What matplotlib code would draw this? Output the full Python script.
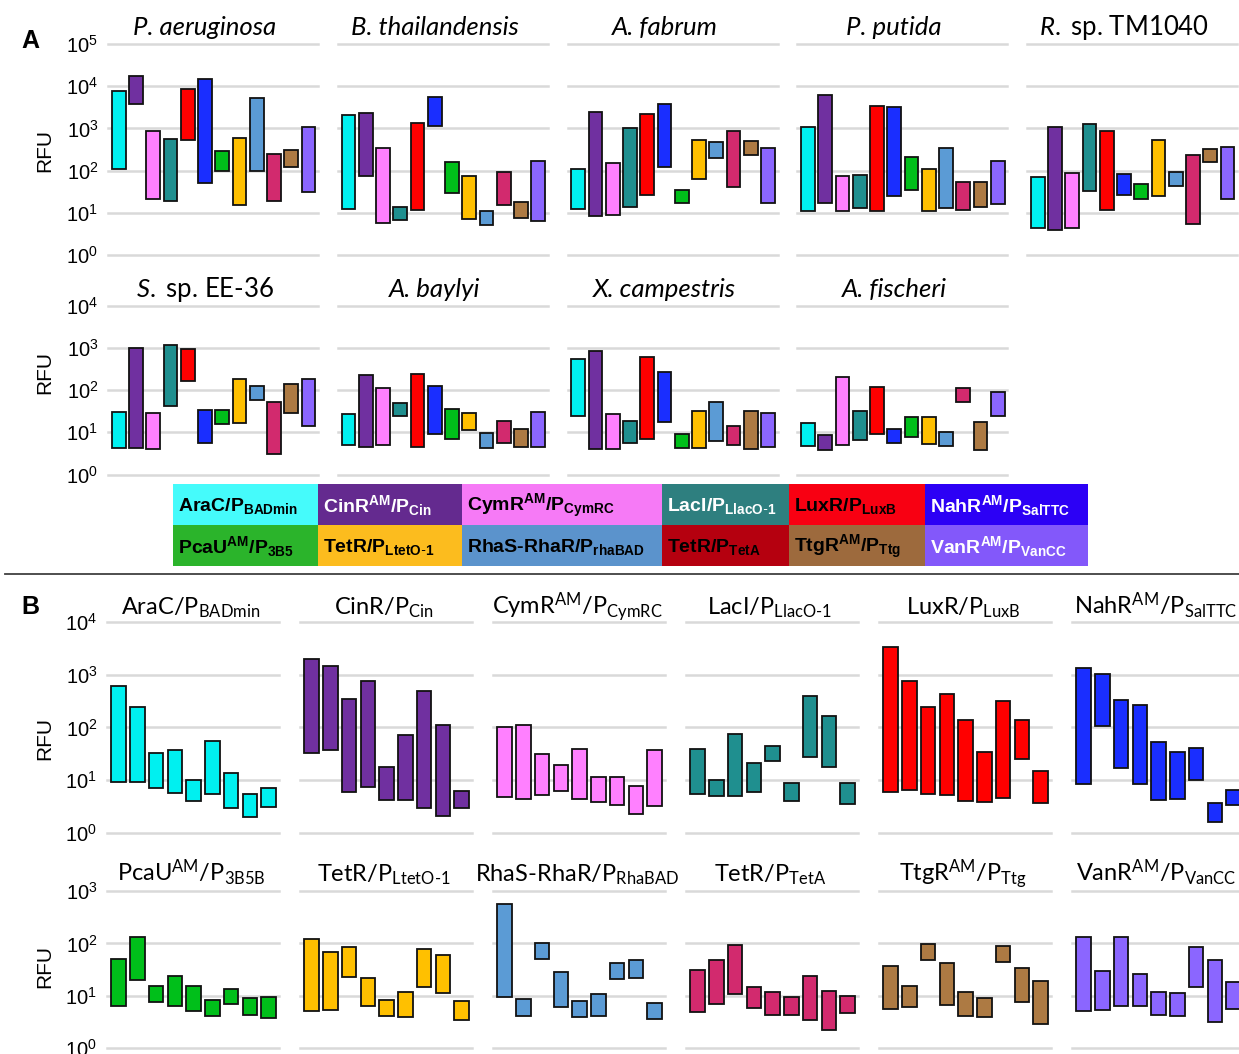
import numpy as np
import matplotlib.pyplot as plt
from matplotlib import font_manager
from matplotlib.patches import Rectangle
from matplotlib.lines import Line2D
from matplotlib.ticker import NullLocator

W, H = 1239, 1054

# ---------------- data: low / high RFU of each floating bar ----------------
bar_colors = ['#00F0F0', '#7030A0', '#FF80FF', '#1F8F8F', '#FF0000', '#1A2EFF',
              '#00BF1A', '#FFC000', '#5B9BD5', '#D22A6E', '#AD7A43', '#8B66FF']

legend_labels = [r'AraC/P$_\mathbf{BADmin}$', r'CinR$^\mathbf{AM}$/P$_\mathbf{Cin}$',
                 r'CymR$^\mathbf{AM}$/P$_\mathbf{CymRC}$', r'LacI/P$_{\mathbf{LlacO}\text{-}\mathbf{1}}$',
                 r'LuxR/P$_\mathbf{LuxB}$', r'NahR$^\mathbf{AM}$/P$_\mathbf{SalTTC}$',
                 r'PcaU$^\mathbf{AM}$/P$_\mathbf{3B5}$', r'TetR/P$_{\mathbf{LtetO}\text{-}\mathbf{1}}$',
                 r'RhaS-RhaR/P$_\mathbf{rhaBAD}$', r'TetR/P$_\mathbf{TetA}$',
                 r'TtgR$^\mathbf{AM}$/P$_\mathbf{Ttg}$', r'VanR$^\mathbf{AM}$/P$_\mathbf{VanCC}$']
legend_colors = ['#45FBFB', '#642A8F', '#F67AF6', '#2E7F7F', '#F80012', '#2C00F5',
                 '#2BB42B', '#FCBC1E', '#5B93CC', '#B5000F', '#9D6A3D', '#8358FA']
legend_text_colors = ['black', 'white', 'black', 'white', 'black', 'white',
                      'black', 'black', 'black', 'black', 'black', 'white']

# panel A: one floating bar per sensor system, per host
a_titles = ['P. aeruginosa', 'B. thailandensis', 'A. fabrum', 'P. putida', r'$\mathit{R.}$ sp. TM1040',
            r'$\mathit{S.}$ sp. EE-36', 'A. baylyi', 'X. campestris', 'A. fischeri']
a_title_italic = [True, True, True, True, False, False, True, True, True]

aeruginosa_lo = [108, 3800, 21, 19, 540, 50, 96, 15, 100, 19, 123, 31]
aeruginosa_hi = [7900, 17400, 890, 550, 8700, 15000, 285, 590, 5300, 245, 300, 1070]
thailandensis_lo = [12.5, 75, 5.7, 6.6, 11.8, 1120, 29, 7, 5.2, 15, 7.4, 6.5]
thailandensis_hi = [2130, 2330, 340, 14, 1330, 5400, 160, 73, 10.8, 91, 18, 165]
fabrum_lo = [12.3, 8.2, 8.7, 14, 27, 123, 16.7, 64, 204, 40, 237, 17.3]
fabrum_hi = [110, 2500, 148, 1000, 2170, 3800, 34, 535, 480, 890, 500, 340]
putida_lo = [10.8, 17, 10.8, 12.7, 11, 25, 34, 11, 12.7, 11.8, 14, 16]
putida_hi = [1100, 6300, 73, 78, 3400, 3160, 215, 108, 340, 53, 53, 165]
tm1040_lo = [4.4, 4, 4.4, 33, 11.4, 26, 21, 25, 43, 5.4, 158, 21]
tm1040_hi = [71, 1100, 87, 1260, 875, 84, 49, 535, 94, 233, 330, 365]
ee36_lo = [4.2, 4.2, 4, 43, 165, 5.6, 15.5, 17, 59, 3.1, 29, 14.4]
ee36_hi = [30, 980, 29, 1150, 940, 33, 34, 180, 126, 51, 142, 183]
baylyi_lo = [5, 4.6, 5, 25, 4.6, 9.1, 6.8, 11.3, 4.3, 5.5, 4.6, 4.6]
baylyi_hi = [27.7, 233, 112, 49, 247, 123, 36, 29, 9.6, 19, 11.8, 29.7]
campestris_lo = [24.4, 4.1, 4.1, 5.5, 7.1, 17.5, 4.3, 4.2, 6.1, 4.9, 4, 4.5]
campestris_hi = [550, 830, 27, 18.5, 600, 275, 9.1, 32, 53, 13.9, 32.6, 28.6]
fischeri_lo = [4.8, 3.9, 5, 6.6, 9.3, 5.5, 7.6, 5.4, 4.8, 53, 3.9, 25]
fischeri_hi = [16.3, 8.6, 208, 32.6, 116, 12.2, 23.5, 23.5, 10, 114, 17.2, 90]

# panel B: one floating bar per host, per sensor system
b_titles = [r'AraC/P$_\mathrm{BADmin}$', r'CinR/P$_\mathrm{Cin}$', r'CymR$^\mathrm{AM}$/P$_\mathrm{CymRC}$',
            r'LacI/P$_{\mathrm{LlacO}\text{-}\mathrm{1}}$', r'LuxR/P$_\mathrm{LuxB}$',
            r'NahR$^\mathrm{AM}$/P$_\mathrm{SalTTC}$',
            r'PcaU$^\mathrm{AM}$/P$_\mathrm{3B5B}$', r'TetR/P$_{\mathrm{LtetO}\text{-}\mathrm{1}}$',
            r'RhaS-RhaR/P$_\mathrm{RhaBAD}$', r'TetR/P$_\mathrm{TetA}$',
            r'TtgR$^\mathrm{AM}$/P$_\mathrm{Ttg}$', r'VanR$^\mathrm{AM}$/P$_\mathrm{VanCC}$']

arac_lo = [9.3, 9.1, 7.1, 5.7, 4, 5.5, 2.9, 2, 3.1]
arac_hi = [610, 245, 33, 37, 10.2, 55, 13.7, 5.4, 7.1]
cinr_lo = [33, 37, 5.8, 7.4, 4.1, 4.1, 3, 2.1, 2.9]
cinr_hi = [2030, 1490, 345, 770, 17.8, 72, 490, 112, 6.1]
cymr_lo = [4.8, 4.3, 5.3, 6.1, 4.4, 3.9, 3.4, 2.3, 3.2]
cymr_hi = [101, 112, 31.4, 19, 39, 11.4, 11.3, 7.7, 37]
laci_lo = [5.5, 4.9, 5, 5.9, 22.8, 4, 27, 17.8, 3.5]
laci_hi = [38.6, 9.9, 76, 21, 44.6, 8.6, 400, 164, 8.7]
luxr_lo = [5.8, 6.4, 5.4, 5.3, 4, 3.9, 4.6, 25, 3.6]
luxr_hi = [3410, 750, 245, 425, 137, 34, 320, 141, 14.7]
nahr_lo = [8.3, 106, 16.7, 8.3, 4.2, 4.4, 10.2, 1.6, 3.3]
nahr_hi = [1340, 1060, 330, 262, 52, 34, 41, 3.6, 6.6]
pcau_lo = [6.3, 20, 7.6, 6.3, 5.2, 4.1, 6.9, 4.4, 3.8]
pcau_hi = [51, 132, 15.3, 24, 15.3, 8.4, 13.6, 9.2, 9.6]
tetr_ltet_lo = [5.2, 5.3, 23, 6.3, 4.1, 4, 15, 11.4, 3.4]
tetr_ltet_hi = [121, 70, 85, 22.4, 8.4, 11.8, 80, 59, 7.9]
rhas_lo = [9.6, 4.2, 51, 6, 3.9, 4.1, 21, 22, 3.6]
rhas_hi = [565, 8.6, 103, 28.7, 7.9, 11, 43, 47.5, 7.4]
tetr_teta_lo = [4.9, 6.9, 11, 5.8, 4.3, 4.3, 3.4, 2.2, 4.7]
tetr_teta_hi = [31.4, 47.5, 94, 14.9, 12.1, 9.4, 24, 12.3, 10]
ttgr_lo = [5.5, 6, 49, 6.8, 4.2, 3.9, 44.6, 7.8, 2.9]
ttgr_hi = [37.5, 15.3, 98.5, 43, 11.9, 9.3, 91, 34.5, 19.6]
vanr_lo = [5.2, 5.3, 6.3, 6.3, 4.3, 4.1, 15, 3.2, 5.6]
vanr_hi = [135, 30, 130, 25.9, 11.7, 11.4, 85, 47.5, 18.5]

a_lo = [aeruginosa_lo, thailandensis_lo, fabrum_lo, putida_lo, tm1040_lo,
        ee36_lo, baylyi_lo, campestris_lo, fischeri_lo]
a_hi = [aeruginosa_hi, thailandensis_hi, fabrum_hi, putida_hi, tm1040_hi,
        ee36_hi, baylyi_hi, campestris_hi, fischeri_hi]
b_lo = [arac_lo, cinr_lo, cymr_lo, laci_lo, luxr_lo, nahr_lo,
        pcau_lo, tetr_ltet_lo, rhas_lo, tetr_teta_lo, ttgr_lo, vanr_lo]
b_hi = [arac_hi, cinr_hi, cymr_hi, laci_hi, luxr_hi, nahr_hi,
        pcau_hi, tetr_ltet_hi, rhas_hi, tetr_teta_hi, ttgr_hi, vanr_hi]

# ---------------- fonts ----------------
installed = {f.name for f in font_manager.fontManager.ttflist}
legend_font = 'Liberation Sans Narrow' if 'Liberation Sans Narrow' in installed else 'Liberation Sans'
legend_size = 15 if legend_font == 'Liberation Sans Narrow' else 14
title_font = 'Lato'

plt.rcParams['font.family'] = ['Liberation Sans', 'DejaVu Sans']
plt.rcParams['mathtext.fontset'] = 'custom'
plt.rcParams['mathtext.rm'] = title_font
plt.rcParams['mathtext.it'] = title_font + ':italic'
plt.rcParams['mathtext.bf'] = legend_font + ':bold'

fig = plt.figure(figsize=(W / 100, H / 100), dpi=100)


def add_ax(x0, ytop, w, ybot):
    return fig.add_axes([x0 / W, 1 - ybot / H, w / W, (ybot - ytop) / H])


def draw_panel(ax, lo, hi, colors, top_dec, width, first):
    lo = np.asarray(lo, dtype=float)
    hi = np.asarray(hi, dtype=float)
    x = np.arange(len(lo))
    ax.bar(x, hi - lo, bottom=lo, width=width, color=colors,
           edgecolor='#111111', linewidth=1.3, zorder=3)
    ax.set_yscale('log')
    ax.set_ylim(1, 10 ** top_dec)
    ax.set_yticks([10 ** k for k in range(top_dec + 1)])
    ax.yaxis.set_minor_locator(NullLocator())
    ax.set_xlim(-0.62, len(lo) - 0.45)
    ax.set_xticks([])
    for s in ax.spines.values():
        s.set_visible(False)
    ax.grid(axis='y', color='#D9D9D9', linewidth=1.8)
    for gl in ax.get_ygridlines():
        gl.set_clip_on(False)
    ax.set_axisbelow(True)
    ax.tick_params(axis='y', length=0, labelsize=14.5, pad=7, labelleft=first)


# ---------------- panel A ----------------
a_rows = [(44, 255, 5, 150), (305.7, 474.5, 4, 373)]   # y of top grid, y of 10^0, decades, RFU y
for i in range(9):
    row, col = divmod(i, 5)
    ytop, ybot, dec, rfu_y = a_rows[row]
    x0 = 108 + 229.75 * col
    ax = add_ax(x0, ytop, 210, ybot)
    draw_panel(ax, a_lo[i], a_hi[i], bar_colors, dec, 0.8, col == 0)
    fig.text((x0 + 97) / W, 1 - (ytop - 9) / H, a_titles[i], ha='center', va='baseline',
             fontsize=18.5, family=title_font,
             fontstyle='italic' if a_title_italic[i] else 'normal')
    if col == 0:
        fig.text(45 / W, 1 - rfu_y / H, 'RFU', rotation=90, ha='center', va='center', fontsize=15)

# legend
col_w = [145, 144, 200, 127, 136, 163]
lax = add_ax(173, 484, sum(col_w), 566)
lax.set_xlim(0, sum(col_w))
lax.set_ylim(0, 82)
lax.axis('off')
edges = np.concatenate([[0], np.cumsum(col_w)])
for k in range(12):
    r, c = divmod(k, 6)
    y0 = 41 if r == 0 else 0
    lax.add_patch(Rectangle((edges[c], y0), col_w[c], 41, facecolor=legend_colors[k],
                            edgecolor='none'))
    lax.text(edges[c] + 5, y0 + 19, legend_labels[k], ha='left', va='center',
             fontsize=legend_size, fontweight='bold', family=legend_font,
             color=legend_text_colors[k])

fig.add_artist(Line2D([5 / W, 1], [1 - 574 / H, 1 - 574 / H], color='#404040', linewidth=1.3))

# ---------------- panel B ----------------
b_rows = [(622.3, 832.6, 4, 738, 614.5), (891, 1048.3, 3, 967, 881.5)]
for i in range(12):
    row, col = divmod(i, 6)
    ytop, ybot, dec, rfu_y, title_y = b_rows[row]
    x0 = 107 + 193 * col
    ax = add_ax(x0, ytop, 172, ybot)
    draw_panel(ax, b_lo[i], b_hi[i], bar_colors[i], dec, 0.78, col == 0)
    fig.text((x0 + 84) / W, 1 - title_y / H, b_titles[i], ha='center', va='baseline',
             fontsize=17, family=title_font)
    if col == 0:
        fig.text(45 / W, 1 - rfu_y / H, 'RFU', rotation=90, ha='center', va='center', fontsize=15)

fig.text(30 / W, 1 - 41 / H, 'A', ha='center', va='center', fontsize=18, fontweight='bold')
fig.text(30 / W, 1 - 607 / H, 'B', ha='center', va='center', fontsize=18, fontweight='bold')

fig.savefig('out.png', dpi=100)
